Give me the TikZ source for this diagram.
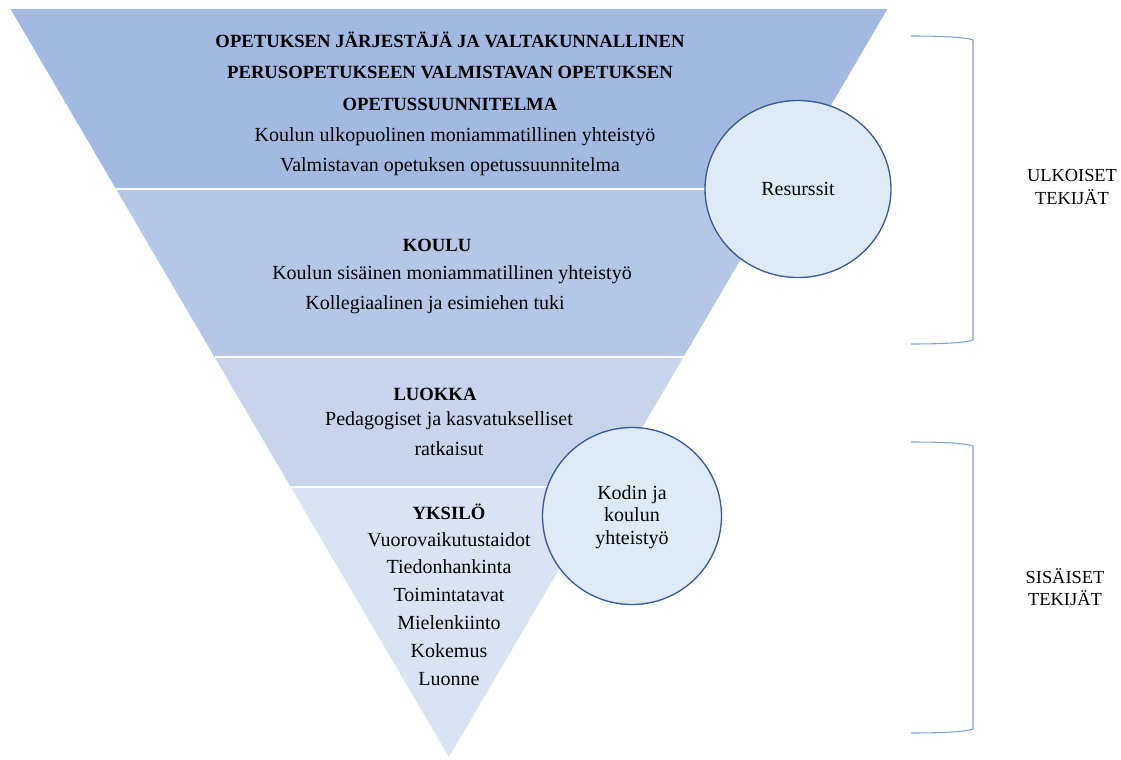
\documentclass[tikz,border=0pt]{standalone}
\usepackage{fontspec}
\setmainfont{Liberation Serif}
\usetikzlibrary{shapes.geometric}
\definecolor{bandA}{HTML}{A2B9E1}
\definecolor{bandB}{HTML}{B4C7E7}
\definecolor{bandC}{HTML}{C8D4EC}
\definecolor{bandD}{HTML}{DAE3F3}
\definecolor{circfill}{HTML}{DEEAF6}
\definecolor{circline}{HTML}{3A5A98}
\definecolor{brackcol}{HTML}{7F9FD8}
\tikzset{
  sep/.style={draw=white, line width=1.5pt},
  txt/.style={inner sep=0pt, font=\fontsize{15}{17}\selectfont, text=black},
  hdr/.style={inner sep=0pt, font=\fontsize{14}{16}\selectfont\bfseries, text=black},
  side/.style={inner sep=0pt, font=\fontsize{13.8}{17}\selectfont, text=black, align=center},
  circ/.style={ellipse, draw=circline, fill=circfill, line width=1pt},
  brack/.style={draw=brackcol, line width=0.8pt},
}
\begin{document}
\begin{tikzpicture}[x=0.75pt, y=-0.75pt]
\useasboundingbox (0,0) rectangle (1121,760);
% bands
\fill[bandA] (10,8) -- (888,8) -- (782,189) -- (116,189) -- cycle;
\fill[bandB] (116,189) -- (782,189) -- (683.5,357) -- (214.5,357) -- cycle;
\fill[bandC] (214.5,357) -- (683.5,357) -- (607.3,487) -- (290.7,487) -- cycle;
\fill[bandD] (290.7,487) -- (607.3,487) -- (449,757) -- cycle;
\draw[sep] (10,8) -- (888,8);
\draw[sep] (116,189) -- (782,189);
\draw[sep] (214.5,357) -- (683.5,357);
\draw[sep] (290.7,487) -- (607.3,487);
% top band text
\node[hdr] (h1) at (450,40) {OPETUKSEN JÄRJESTÄJÄ JA VALTAKUNNALLINEN};
\node[hdr] (h2) at (450,72) {PERUSOPETUKSEEN VALMISTAVAN OPETUKSEN};
\node[hdr] (h3) at (450,104) {OPETUSSUUNNITELMA};
\node[txt] (t1) at (455,137) {Koulun ulkopuolinen moniammatillinen yhteistyö};
\node[txt] (t2) at (450,167) {Valmistavan opetuksen opetussuunnitelma};
% koulu
\node[hdr] (k0) at (437,245) {KOULU};
\node[txt] (k1) at (452,275) {Koulun sisäinen moniammatillinen yhteistyö};
\node[txt] (k2) at (435,305) {Kollegiaalinen ja esimiehen tuki};
% luokka
\node[hdr] (l0) at (435,394) {LUOKKA};
\node[txt] (l1) at (449,421) {Pedagogiset ja kasvatukselliset};
\node[txt] (l2) at (449,449) {ratkaisut};
% yksilo
\node[hdr] (y0) at (449,512) {YKSILÖ};
\node[txt] (y1) at (449,540) {Vuorovaikutustaidot};
\node[txt] (y2) at (449,567) {Tiedonhankinta};
\node[txt] (y3) at (449,595) {Toimintatavat};
\node[txt] (y4) at (449,623) {Mielenkiinto};
\node[txt] (y5) at (449,651) {Kokemus};
\node[txt] (y6) at (449,679) {Luonne};
% circles
\node[circ, minimum width=139.5pt, minimum height=132.75pt] (res) at (798,189) {};
\node[txt] (resT) at (798,189) {Resurssit};
\node[circ, minimum width=134.25pt, minimum height=132.75pt] (kod) at (632,516) {};
\node[txt, align=center] (kodT) at (632,517) {Kodin ja\\koulun\\yhteistyö};
% brackets
\draw[brack] (911,36) .. controls (940,36) and (965,37) .. (973,40) -- (973,340) .. controls (965,343) and (940,344) .. (911,344);
\draw[brack] (911,442) .. controls (940,442) and (965,443) .. (973,446) -- (973,729) .. controls (965,732) and (940,733) .. (911,733);
\node[side] (ulk) at (1072,187) {ULKOISET\\TEKIJÄT};
\node[side] (sis) at (1065,587) {SISÄISET\\TEKIJÄT};
\end{tikzpicture}
\end{document}
